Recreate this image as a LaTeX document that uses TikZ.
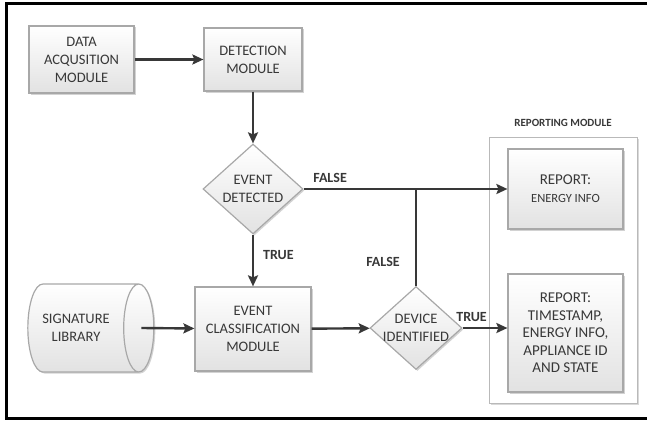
\documentclass[tikz,border=0pt]{standalone}
\usepackage{fontspec}
\setmainfont{Carlito}
\usetikzlibrary{shapes.geometric,arrows.meta,shadows}
\definecolor{ink}{HTML}{383838}
\definecolor{edge}{HTML}{A8A8A8}
\definecolor{boxbot}{HTML}{E2E2E2}
\tikzset{
  boxtext/.style={text=ink, align=center, inner sep=0pt, font=\fontsize{14.5}{18}\selectfont},
  module/.style={boxtext, draw=edge, line width=1.2pt, top color=white, bottom color=boxbot,
    drop shadow={shadow xshift=1.5pt, shadow yshift=-1.5pt, opacity=0.35, fill=gray}},
  decision/.style={module, diamond},
  store/.style={module, cylinder, aspect=1.1},
  frame/.style={draw=edge!80, line width=0.9pt, fill=white,
    drop shadow={shadow xshift=1.5pt, shadow yshift=-1.5pt, opacity=0.3, fill=gray}},
  flow/.style={draw=ink, line width=2.4pt, -{Stealth[length=11pt,width=10pt,inset=2pt]}},
  link/.style={draw=ink, line width=2.4pt},
  tag/.style={text=ink, inner sep=1pt, font=\bfseries\fontsize{14}{17}\selectfont},
  heading/.style={text=ink, font=\bfseries\fontsize{11}{13}\selectfont}
}
\begin{document}
\begin{tikzpicture}[x=1pt,y=-1pt]
  \useasboundingbox (0,0) rectangle (647,420);
  \draw[line width=3pt] (652,4) -- (6,4) -- (6,418) -- (652,418);

  \node[module, minimum width=105pt, minimum height=67pt] (daq) at (81.5,59.5) {DATA\\ACQUSITION\\MODULE};
  \node[module, minimum width=98pt, minimum height=63pt] (det) at (253,59.5) {DETECTION\\MODULE};
  \node[decision, minimum width=100pt, minimum height=90pt] (evdet) at (253,189) {};
  \node[boxtext] (evdettext) at (evdet) {EVENT\\DETECTED};
  \node[store, minimum width=88pt, minimum height=126pt] (siglib) at (83,328) {\phantom{SIGNATURE}\\\phantom{LIBRARY}};
  \node[boxtext] (siglibtext) at (76,328) {SIGNATURE\\LIBRARY};
  \node[module, minimum width=116pt, minimum height=84pt] (evcls) at (253,329) {EVENT\\CLASSIFICATION\\MODULE};
  \node[decision, minimum width=92pt, minimum height=83pt] (devid) at (416,328) {};
  \node[boxtext] (devidtext) at (devid) {DEVICE\\IDENTIFIED};

  \node[frame, minimum width=148pt, minimum height=266pt] (repmod) at (563,270) {};
  \node[heading] (repmodtitle) at (563,123) {REPORTING MODULE};
  \node[module, minimum width=115pt, minimum height=80pt] (repenergy) at (565.5,189)
    {{\fontsize{15}{17}\selectfont REPORT:}\\{\fontsize{12.5}{15}\selectfont ENERGY INFO}};
  \node[module, minimum width=115pt, minimum height=118pt, font=\fontsize{15}{17.5}\selectfont] (repfull) at (565.5,333)
    {REPORT:\\TIMESTAMP,\\ENERGY INFO,\\APPLIANCE ID\\AND STATE};

  \coordinate (split) at (416,189);

  \draw[flow] (daq) -- (det);
  \draw[flow] (det) -- (evdet);
  \draw[flow] (evdet) -- node[tag, right=8pt, pos=0.4] (ltrue) {TRUE} (evcls);
  \draw[flow] (evdet.east) -- node[tag, above=4pt, pos=0.13] (lfalse) {FALSE} (repenergy.west);
  \draw[flow] ([xshift=-13pt]siglib.east) -- (evcls);
  \draw[flow] (evcls) -- (devid);
  \draw[link] (devid.north) -- node[tag, left=14pt, pos=0.25] (lfalsetwo) {FALSE} (split);
  \draw[flow] (devid.east) -- node[tag, above=4pt, pos=0.2] (ltruetwo) {TRUE} (devid.east -| repfull.west);
\end{tikzpicture}
\end{document}
